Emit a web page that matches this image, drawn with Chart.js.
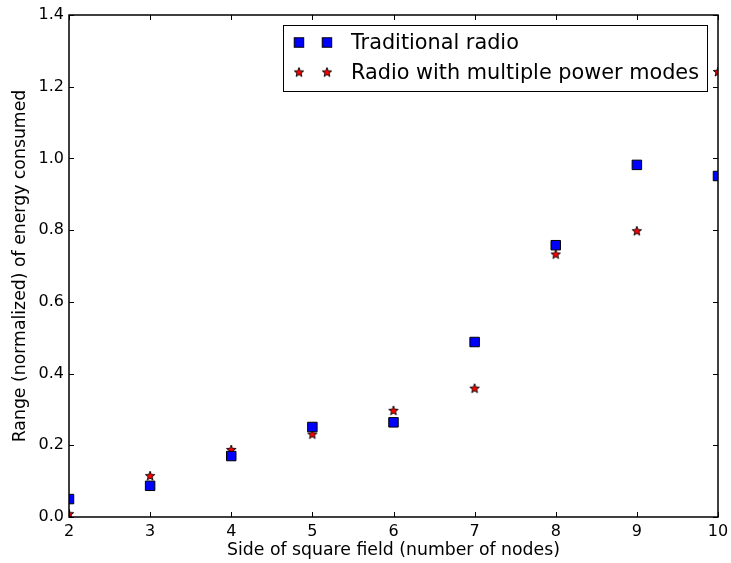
<!DOCTYPE html>
<html>
<head>
<meta charset="utf-8">
<script src="https://cdn.jsdelivr.net/npm/chart.js@4/dist/chart.umd.min.js"></script>
<style>
  html, body { margin: 0; padding: 0; background: #fff; }
  #wrap { width: 731px; height: 563px; }
</style>
</head>
<body>
<div id="wrap"><canvas id="chart" width="731" height="563"></canvas></div>
<script>
// field side (number of nodes)
var sides = [2, 3, 4, 5, 6, 7, 8, 9, 10];
// normalized energy range
var traditionalRadio = [0.050, 0.087, 0.170, 0.251, 0.264, 0.488, 0.758, 0.982, 0.951];
var multiPowerRadio = [0.008, 0.114, 0.187, 0.230, 0.296, 0.358, 0.732, 0.797, 1.241];
var xTicks = [2, 3, 4, 5, 6, 7, 8, 9, 10];
var yTicks = [0, 0.2, 0.4, 0.6, 0.8, 1.0, 1.2, 1.4];

var seriesLabels = ['Traditional radio', 'Radio with multiple power modes'];

Chart.defaults.font.family = '"DejaVu Sans", sans-serif';
Chart.defaults.font.size = 16;
Chart.defaults.color = '#000';

// matplotlib-like filled star marker
function makeStar(outer, inner) {
    var c = document.createElement('canvas');
    var s = Math.ceil(outer * 2 + 2);
    c.width = s; c.height = s;
    var g = c.getContext('2d');
    g.beginPath();
    for (var i = 0; i < 10; i++) {
        var r = i % 2 === 0 ? outer : inner;
        var a = -Math.PI / 2 + i * Math.PI / 5;
        var px = s / 2 + r * Math.cos(a);
        var py = s / 2 + r * Math.sin(a);
        if (i === 0) g.moveTo(px, py); else g.lineTo(px, py);
    }
    g.closePath();
    g.fillStyle = '#ff0000';
    g.fill();
    g.lineWidth = 0.9;
    g.strokeStyle = '#000';
    g.stroke();
    return c;
}
var starImg = makeStar(5, 2.1);

function toPoints(ys) {
    return sides.map(function (x, i) { return {x: x, y: ys[i]}; });
}

// frame + inward ticks on all four sides, like the matplotlib classic style
var framePlugin = {
    id: 'frame',
    afterDatasetsDraw: function (chart) {
        var ctx = chart.ctx, a = chart.chartArea;
        var xs = chart.scales.x, ys = chart.scales.y;
        var len = 5;
        ctx.save();
        ctx.strokeStyle = '#000';
        ctx.lineWidth = 1;
        ctx.beginPath();
        xTicks.forEach(function (t) {
            var px = Math.round(xs.getPixelForValue(t)) + 0.5;
            ctx.moveTo(px, a.bottom); ctx.lineTo(px, a.bottom - len);
            ctx.moveTo(px, a.top); ctx.lineTo(px, a.top + len);
        });
        yTicks.forEach(function (t) {
            var py = Math.round(ys.getPixelForValue(t)) + 0.5;
            ctx.moveTo(a.left, py); ctx.lineTo(a.left + len, py);
            ctx.moveTo(a.right, py); ctx.lineTo(a.right - len, py);
        });
        ctx.stroke();
        ctx.lineWidth = 1.5;
        ctx.strokeRect(a.left, a.top, a.right - a.left, a.bottom - a.top);
        ctx.restore();
    }
};

// legend box with two markers per entry
var legendPlugin = {
    id: 'mplLegend',
    afterDraw: function (chart) {
        var ctx = chart.ctx, a = chart.chartArea;
        ctx.save();
        ctx.font = '20.8px "DejaVu Sans", sans-serif';
        var tw = Math.max.apply(null, seriesLabels.map(function (s) { return ctx.measureText(s).width; }));
        var boxW = 68 + tw + 8;
        var boxH = 66;
        var right = a.right - 11;
        var left = right - boxW;
        var top = a.top + 10.5;
        ctx.fillStyle = '#fff';
        ctx.fillRect(left, top, boxW, boxH);
        ctx.strokeStyle = '#000';
        ctx.lineWidth = 1;
        ctx.strokeRect(Math.round(left) + 0.5, top, Math.round(boxW), boxH);
        var rows = [top + 17, top + 47];
        chart.data.datasets.forEach(function (ds, i) {
            var y = rows[i];
            [left + 16, left + 44].forEach(function (mx) {
                if (ds.pointStyle === 'rect') {
                    ctx.fillStyle = ds.backgroundColor;
                    ctx.strokeStyle = ds.borderColor;
                    ctx.lineWidth = ds.borderWidth;
                    var h = ds.pointRadius * Math.SQRT1_2;
                    ctx.fillRect(mx - h, y - h, 2 * h, 2 * h);
                    ctx.strokeRect(mx - h, y - h, 2 * h, 2 * h);
                } else {
                    ctx.drawImage(starImg, mx - starImg.width / 2, y - starImg.height / 2);
                }
            });
            ctx.fillStyle = '#000';
            ctx.textBaseline = 'middle';
            ctx.textAlign = 'left';
            ctx.fillText(ds.label, left + 68, y + 1);
        });
        ctx.restore();
    }
};

new Chart(document.getElementById('chart'), {
    type: 'scatter',
    data: {
        datasets: [{
            label: seriesLabels[0],
            data: toPoints(traditionalRadio),
            pointStyle: 'rect',
            pointRadius: 6.7,
            pointHoverRadius: 6.7,
            backgroundColor: '#0000ff',
            borderColor: '#000',
            borderWidth: 1,
            clip: 0
        }, {
            label: seriesLabels[1],
            data: toPoints(multiPowerRadio),
            pointStyle: starImg,
            pointRadius: 5,
            backgroundColor: '#ff0000',
            borderColor: '#000',
            borderWidth: 1,
            clip: 0
        }]
    },
    options: {
        responsive: false,
        animation: false,
        events: [],
        layout: { padding: { top: 15, right: 13, left: 0, bottom: 0 } },
        plugins: {
            legend: { display: false },
            tooltip: { enabled: false }
        },
        scales: {
            x: {
                type: 'linear',
                min: 2,
                max: 10,
                grid: { display: false, drawTicks: false },
                border: { display: false },
                afterBuildTicks: function (scale) {
                    scale.ticks = xTicks.map(function (v) { return {value: v}; });
                },
                ticks: {
                    padding: 5,
                    callback: function (v) { return String(v); }
                },
                title: {
                    display: true,
                    text: 'Side of square field (number of nodes)',
                    font: { size: 17.3 },
                    padding: { top: 0, bottom: 2 }
                },
                afterFit: function (scale) {
                    scale.height = 46;
                    scale.paddingLeft = 0;
                    scale.paddingRight = 0;
                }
            },
            y: {
                type: 'linear',
                min: 0,
                max: 1.4,
                grid: { display: false, drawTicks: false },
                border: { display: false },
                afterBuildTicks: function (scale) {
                    scale.ticks = yTicks.map(function (v) { return {value: v}; });
                },
                ticks: {
                    padding: 5,
                    callback: function (v) { return v.toFixed(1); }
                },
                title: {
                    display: true,
                    text: 'Range (normalized) of energy consumed',
                    font: { size: 17.3 },
                    padding: { top: 10, bottom: 0 }
                },
                afterFit: function (scale) {
                    scale.width = 69;
                    scale.paddingTop = 0;
                    scale.paddingBottom = 0;
                }
            }
        }
    },
    plugins: [framePlugin, legendPlugin]
});
</script>
</body>
</html>
